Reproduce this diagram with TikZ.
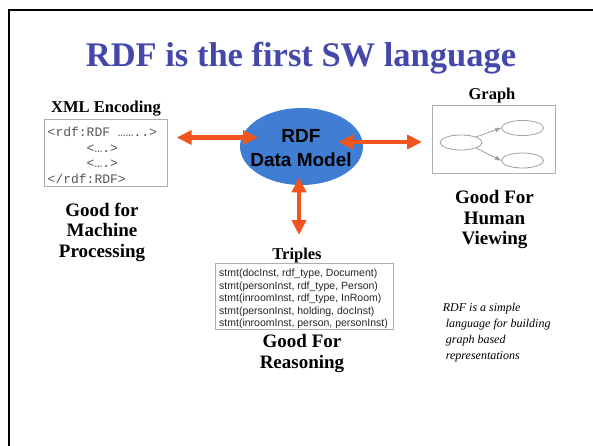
\documentclass[tikz,border=0pt]{standalone}
\usepackage{fontspec}
\setmainfont{Liberation Serif}
\newfontfamily\sansfam{Liberation Sans}
\newfontfamily\monofam{Liberation Mono}
\usetikzlibrary{arrows.meta,shapes.geometric}

\definecolor{titleblue}{RGB}{68,72,170}
\definecolor{modelblue}{RGB}{64,126,212}
\definecolor{linkorange}{RGB}{242,84,30}
\definecolor{boxgray}{RGB}{175,175,175}
\definecolor{codegray}{RGB}{85,85,85}
\definecolor{graphgray}{RGB}{160,160,160}

\begin{document}
\begin{tikzpicture}[x=1pt,y=-1pt,
  heading/.style={font=\fontsize{16.5}{19}\selectfont\bfseries, anchor=base, inner sep=0pt},
  verdict/.style={font=\fontsize{19}{20.3}\selectfont\bfseries, align=center, anchor=north, inner sep=0pt},
  panel/.style={draw=boxgray, line width=1pt, rectangle, inner sep=0pt},
  bigarrow/.style={draw=linkorange, line width=4.3pt,
    {Triangle[width=14pt,length=15pt]}-{Triangle[width=14pt,length=15pt]}},
  gnode/.style={draw=graphgray, line width=0.8pt, ellipse, minimum width=42pt, minimum height=15pt, inner sep=0pt},
  glink/.style={draw=graphgray, line width=0.8pt, -{Triangle[width=4.5pt,length=6pt]}}
]
\useasboundingbox (0,0) rectangle (593,446);
\fill[white] (0,0) rectangle (593,446);

% slide frame
\draw[line width=2.3pt] (8.7,446) -- (8.7,10) -- (593,10);

% title
\node[anchor=base, inner sep=0pt, text=titleblue, font=\fontsize{34.5}{40}\selectfont\bfseries] (title) at (301,67) {RDF is the first SW language};

% central data model
\node[ellipse, fill=modelblue, minimum width=123pt, minimum height=77pt, inner sep=0pt] (rdf) at (301.5,146.5) {};
\node[align=center, inner sep=0pt, font=\sansfam\fontsize{19}{24}\selectfont\bfseries] (rdflabel) at (301,148.3) {RDF\\Data Model};

% XML encoding panel
\node[heading] (xmlhead) at (106,112.7) {XML Encoding};
\node[panel, minimum width=123pt, minimum height=67pt] (xml) at (105.5,153.5) {};
\node[anchor=north west, inner sep=0pt, align=left, text=codegray,
  font=\monofam\fontsize{13}{15.5}\selectfont] (xmlcode) at (47.5,127) {%
  <rdf:RDF ……..>\\
  \phantom{<rdf:}<….>\\
  \phantom{<rdf:}<….>\\
  </rdf:RDF>};
\node[verdict] (machine) at (102,203) {Good for\\Machine\\Processing};

% graph panel
\node[heading] (graphhead) at (492,99.5) {Graph};
\node[panel, minimum width=123pt, minimum height=68pt] (graph) at (493.5,140) {};
\node[gnode] (g1) at (461,142.5) {};
\node[gnode] (g2) at (522.5,128) {};
\node[gnode] (g3) at (522.5,160.5) {};
\draw[glink] (g1.north east) -- (g2.west);
\draw[glink] (g1.south east) -- (g3.west);
\node[verdict] (human) at (494.5,190.5) {Good For\\Human\\Viewing};

% triples panel
\node[heading] (triphead) at (297,259.3) {Triples};
\node[panel, minimum width=178pt, minimum height=66pt] (triples) at (304,296) {};
\node[anchor=north west, inner sep=0pt, align=left, text=black!85,
  font=\sansfam\fontsize{10.5}{12.4}\selectfont] (tripletext) at (219,269) {%
  stmt(docInst, rdf\_type, Document)\\
  stmt(personInst, rdf\_type, Person)\\
  stmt(inroomInst, rdf\_type, InRoom)\\
  stmt(personInst, holding, docInst)\\
  stmt(inroomInst, person, personInst)};
\node[verdict] (reasoning) at (302,334.5) {Good For\\Reasoning};

% side note
\node[anchor=north west, inner sep=0pt, align=left,
  font=\fontsize{12}{16}\selectfont\itshape] (note) at (442.7,302.5) {%
  RDF is a simple\\
  \hspace*{3pt}language for building\\
  \hspace*{3pt}graph based\\
  \hspace*{3pt}representations};

% links between the model and its views
\coordinate (xmlend) at (176.7,137.5);
\coordinate (rdfwest) at (258,137.5);
\coordinate (rdfeast) at (338.3,142);
\coordinate (graphend) at (422,142);
\coordinate (rdfsouth) at (299,177.3);
\coordinate (tripend) at (299,235);
\draw[bigarrow] (xmlend) -- (rdfwest);
\draw[bigarrow] (rdfeast) -- (graphend);
\draw[bigarrow] (rdfsouth) -- (tripend);
\end{tikzpicture}
\end{document}
